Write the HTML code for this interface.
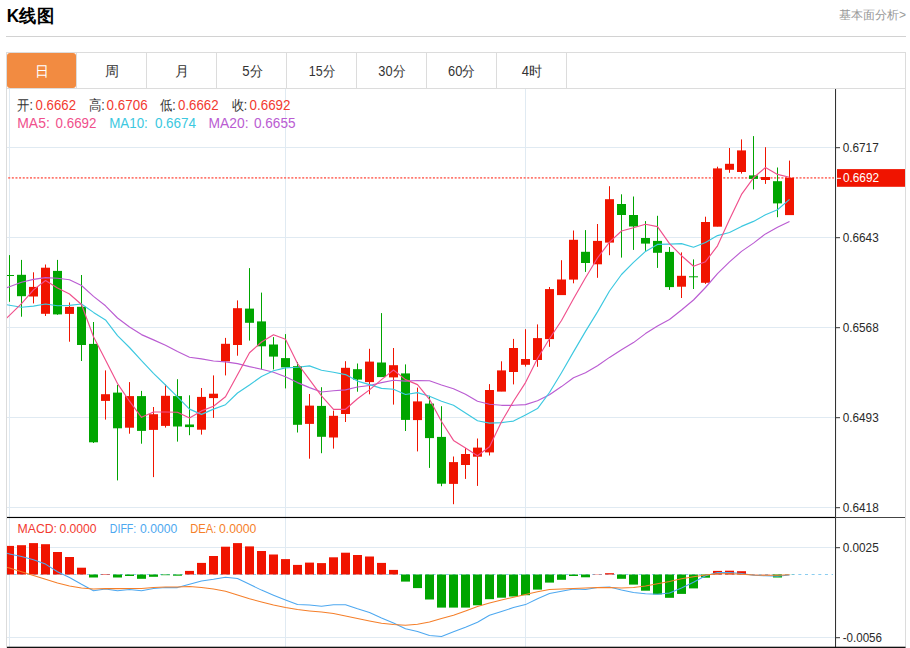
<!DOCTYPE html>
<html lang="zh"><head><meta charset="utf-8"><title>K线图</title>
<style>html,body{margin:0;padding:0;background:#fff;font-family:"Liberation Sans",sans-serif}body{width:910px;height:648px;overflow:hidden}</style></head>
<body>
<svg width="910" height="648" viewBox="0 0 910 648" style="display:block;font-family:'Liberation Sans',sans-serif">
<rect width="910" height="648" fill="#fff"/>
<text x="6.8" y="21.6" font-size="18" font-weight="bold" fill="#000" textLength="47" lengthAdjust="spacingAndGlyphs">K线图</text>
<text x="906" y="18.6" font-size="12" fill="#999" text-anchor="end">基本面分析&gt;</text>
<rect x="6" y="36" width="900" height="1" fill="#d2d2d2"/>
<rect x="6.5" y="52.5" width="899" height="595" fill="none" stroke="#dcdcdc" stroke-width="1"/>
<rect x="7" y="88" width="898" height="1" fill="#dcdcdc"/>
<rect x="7" y="53" width="69" height="35" rx="3" fill="#F28B41"/>
<rect x="76" y="53" width="1" height="35" fill="#dcdcdc"/>
<rect x="146" y="53" width="1" height="35" fill="#dcdcdc"/>
<rect x="216" y="53" width="1" height="35" fill="#dcdcdc"/>
<rect x="286" y="53" width="1" height="35" fill="#dcdcdc"/>
<rect x="356" y="53" width="1" height="35" fill="#dcdcdc"/>
<rect x="426" y="53" width="1" height="35" fill="#dcdcdc"/>
<rect x="496" y="53" width="1" height="35" fill="#dcdcdc"/>
<rect x="566" y="53" width="1" height="35" fill="#dcdcdc"/>
<text x="41.5" y="75.5" font-size="14" fill="#fff" text-anchor="middle">日</text>
<text x="111.5" y="75.5" font-size="14" fill="#333" text-anchor="middle">周</text>
<text x="181.5" y="75.5" font-size="14" fill="#333" text-anchor="middle">月</text>
<text x="242.3" y="75.5" font-size="14" fill="#333" textLength="20.5" lengthAdjust="spacingAndGlyphs">5分</text>
<text x="308.7" y="75.5" font-size="14" fill="#333" textLength="26.4" lengthAdjust="spacingAndGlyphs">15分</text>
<text x="378.3" y="75.5" font-size="14" fill="#333" textLength="27.0" lengthAdjust="spacingAndGlyphs">30分</text>
<text x="448.1" y="75.5" font-size="14" fill="#333" textLength="27.1" lengthAdjust="spacingAndGlyphs">60分</text>
<text x="521.7" y="75.5" font-size="14" fill="#333" textLength="20.4" lengthAdjust="spacingAndGlyphs">4时</text>
<defs><clipPath id="cp"><rect x="7" y="88" width="828" height="560"/></clipPath></defs>
<rect x="7" y="147" width="828" height="1" fill="#E0EAF2"/>
<rect x="7" y="237" width="828" height="1" fill="#E0EAF2"/>
<rect x="7" y="327" width="828" height="1" fill="#E0EAF2"/>
<rect x="7" y="417" width="828" height="1" fill="#E0EAF2"/>
<rect x="7" y="507" width="828" height="1" fill="#E0EAF2"/>
<rect x="7" y="547" width="828" height="1" fill="#E0EAF2"/>
<rect x="7" y="637" width="828" height="1" fill="#E0EAF2"/>
<rect x="9" y="89" width="1" height="558" fill="#E0EAF2"/>
<rect x="285" y="89" width="1" height="558" fill="#E0EAF2"/>
<rect x="525" y="89" width="1" height="558" fill="#E0EAF2"/>
<line x1="8.2" y1="177.9" x2="834" y2="177.9" stroke="#FF7A70" stroke-width="1.9" stroke-dasharray="2,1.63"/>
<g clip-path="url(#cp)">
<rect x="9.0" y="255.1" width="1" height="46.7" fill="#00A500"/>
<rect x="5.0" y="275.0" width="9" height="1.0" fill="#00A500"/>
<rect x="21.0" y="259.9" width="1" height="56.8" fill="#00A500"/>
<rect x="17.0" y="274.8" width="9" height="21.4" fill="#00A500"/>
<rect x="33.0" y="272.3" width="1" height="31.1" fill="#F01400"/>
<rect x="29.0" y="286.9" width="9" height="9.6" fill="#F01400"/>
<rect x="45.0" y="264.5" width="1" height="51.5" fill="#F01400"/>
<rect x="41.0" y="267.7" width="9" height="46.1" fill="#F01400"/>
<rect x="57.0" y="259.9" width="1" height="54.9" fill="#00A500"/>
<rect x="53.0" y="270.9" width="9" height="43.5" fill="#00A500"/>
<rect x="69.0" y="302.5" width="1" height="39.2" fill="#F01400"/>
<rect x="65.0" y="306.9" width="9" height="7.0" fill="#F01400"/>
<rect x="81.0" y="275.0" width="1" height="86.0" fill="#00A500"/>
<rect x="77.0" y="306.8" width="9" height="38.2" fill="#00A500"/>
<rect x="93.0" y="322.0" width="1" height="121.0" fill="#00A500"/>
<rect x="89.0" y="343.9" width="9" height="98.4" fill="#00A500"/>
<rect x="105.0" y="370.4" width="1" height="49.2" fill="#F01400"/>
<rect x="101.0" y="394.2" width="9" height="6.7" fill="#F01400"/>
<rect x="117.0" y="385.0" width="1" height="95.4" fill="#00A500"/>
<rect x="113.0" y="392.6" width="9" height="35.7" fill="#00A500"/>
<rect x="129.0" y="382.1" width="1" height="51.6" fill="#F01400"/>
<rect x="125.0" y="396.1" width="9" height="31.6" fill="#F01400"/>
<rect x="141.0" y="390.9" width="1" height="52.8" fill="#00A500"/>
<rect x="137.0" y="396.1" width="9" height="34.8" fill="#00A500"/>
<rect x="153.0" y="407.0" width="1" height="70.1" fill="#F01400"/>
<rect x="149.0" y="414.2" width="9" height="15.7" fill="#F01400"/>
<rect x="165.0" y="384.5" width="1" height="43.1" fill="#F01400"/>
<rect x="161.0" y="395.8" width="9" height="30.1" fill="#F01400"/>
<rect x="177.0" y="379.2" width="1" height="62.4" fill="#00A500"/>
<rect x="173.0" y="396.1" width="9" height="30.4" fill="#00A500"/>
<rect x="189.0" y="395.3" width="1" height="39.9" fill="#00A500"/>
<rect x="185.0" y="424.5" width="9" height="2.6" fill="#00A500"/>
<rect x="201.0" y="388.0" width="1" height="46.6" fill="#F01400"/>
<rect x="197.0" y="396.9" width="9" height="32.8" fill="#F01400"/>
<rect x="213.0" y="375.4" width="1" height="42.5" fill="#F01400"/>
<rect x="209.0" y="393.7" width="9" height="4.4" fill="#F01400"/>
<rect x="225.0" y="337.9" width="1" height="37.5" fill="#F01400"/>
<rect x="221.0" y="343.8" width="9" height="17.6" fill="#F01400"/>
<rect x="237.0" y="300.4" width="1" height="55.3" fill="#F01400"/>
<rect x="233.0" y="308.2" width="9" height="36.8" fill="#F01400"/>
<rect x="249.0" y="268.1" width="1" height="72.5" fill="#00A500"/>
<rect x="245.0" y="308.6" width="9" height="14.2" fill="#00A500"/>
<rect x="261.0" y="292.6" width="1" height="76.8" fill="#00A500"/>
<rect x="257.0" y="321.4" width="9" height="24.9" fill="#00A500"/>
<rect x="273.0" y="337.1" width="1" height="32.3" fill="#00A500"/>
<rect x="269.0" y="344.5" width="9" height="12.1" fill="#00A500"/>
<rect x="285.0" y="334.1" width="1" height="54.3" fill="#00A500"/>
<rect x="281.0" y="358.1" width="9" height="9.3" fill="#00A500"/>
<rect x="297.0" y="362.0" width="1" height="70.5" fill="#00A500"/>
<rect x="293.0" y="366.2" width="9" height="58.6" fill="#00A500"/>
<rect x="309.0" y="394.0" width="1" height="64.7" fill="#F01400"/>
<rect x="305.0" y="405.6" width="9" height="18.3" fill="#F01400"/>
<rect x="321.0" y="387.2" width="1" height="66.0" fill="#00A500"/>
<rect x="317.0" y="405.9" width="9" height="30.9" fill="#00A500"/>
<rect x="333.0" y="410.6" width="1" height="38.0" fill="#F01400"/>
<rect x="329.0" y="415.8" width="9" height="21.7" fill="#F01400"/>
<rect x="345.0" y="361.2" width="1" height="60.8" fill="#F01400"/>
<rect x="341.0" y="367.8" width="9" height="46.2" fill="#F01400"/>
<rect x="357.0" y="363.5" width="1" height="28.2" fill="#00A500"/>
<rect x="353.0" y="369.2" width="9" height="10.4" fill="#00A500"/>
<rect x="369.0" y="348.8" width="1" height="45.5" fill="#F01400"/>
<rect x="365.0" y="361.6" width="9" height="20.5" fill="#F01400"/>
<rect x="381.0" y="313.1" width="1" height="63.6" fill="#00A500"/>
<rect x="377.0" y="362.5" width="9" height="14.6" fill="#00A500"/>
<rect x="393.0" y="348.0" width="1" height="56.6" fill="#F01400"/>
<rect x="389.0" y="365.2" width="9" height="12.2" fill="#F01400"/>
<rect x="405.0" y="364.4" width="1" height="66.6" fill="#00A500"/>
<rect x="401.0" y="373.4" width="9" height="46.5" fill="#00A500"/>
<rect x="417.0" y="387.6" width="1" height="63.8" fill="#F01400"/>
<rect x="413.0" y="401.4" width="9" height="18.7" fill="#F01400"/>
<rect x="429.0" y="395.8" width="1" height="72.1" fill="#00A500"/>
<rect x="425.0" y="403.6" width="9" height="34.5" fill="#00A500"/>
<rect x="441.0" y="406.2" width="1" height="80.0" fill="#00A500"/>
<rect x="437.0" y="436.9" width="9" height="46.8" fill="#00A500"/>
<rect x="453.0" y="456.5" width="1" height="47.7" fill="#F01400"/>
<rect x="449.0" y="462.1" width="9" height="21.8" fill="#F01400"/>
<rect x="465.0" y="448.1" width="1" height="30.8" fill="#F01400"/>
<rect x="461.0" y="454.0" width="9" height="11.0" fill="#F01400"/>
<rect x="477.0" y="438.5" width="1" height="47.4" fill="#F01400"/>
<rect x="473.0" y="447.6" width="9" height="9.1" fill="#F01400"/>
<rect x="489.0" y="384.1" width="1" height="71.4" fill="#F01400"/>
<rect x="485.0" y="390.0" width="9" height="62.4" fill="#F01400"/>
<rect x="501.0" y="361.3" width="1" height="29.9" fill="#F01400"/>
<rect x="497.0" y="370.4" width="9" height="21.2" fill="#F01400"/>
<rect x="513.0" y="338.9" width="1" height="45.5" fill="#F01400"/>
<rect x="509.0" y="348.0" width="9" height="24.0" fill="#F01400"/>
<rect x="525.0" y="329.2" width="1" height="37.4" fill="#F01400"/>
<rect x="521.0" y="359.0" width="9" height="5.8" fill="#F01400"/>
<rect x="537.0" y="324.4" width="1" height="42.4" fill="#F01400"/>
<rect x="533.0" y="338.1" width="9" height="21.9" fill="#F01400"/>
<rect x="549.0" y="287.0" width="1" height="59.8" fill="#F01400"/>
<rect x="545.0" y="289.1" width="9" height="50.0" fill="#F01400"/>
<rect x="561.0" y="260.2" width="1" height="34.5" fill="#F01400"/>
<rect x="557.0" y="279.5" width="9" height="15.6" fill="#F01400"/>
<rect x="573.0" y="230.5" width="1" height="52.8" fill="#F01400"/>
<rect x="569.0" y="239.8" width="9" height="39.8" fill="#F01400"/>
<rect x="585.0" y="230.1" width="1" height="41.8" fill="#00A500"/>
<rect x="581.0" y="251.8" width="9" height="11.2" fill="#00A500"/>
<rect x="597.0" y="224.0" width="1" height="53.8" fill="#F01400"/>
<rect x="593.0" y="240.9" width="9" height="23.4" fill="#F01400"/>
<rect x="609.0" y="186.2" width="1" height="69.0" fill="#F01400"/>
<rect x="605.0" y="199.2" width="9" height="43.4" fill="#F01400"/>
<rect x="621.0" y="194.3" width="1" height="63.3" fill="#00A500"/>
<rect x="617.0" y="204.0" width="9" height="11.0" fill="#00A500"/>
<rect x="633.0" y="196.5" width="1" height="53.4" fill="#00A500"/>
<rect x="629.0" y="215.0" width="9" height="11.5" fill="#00A500"/>
<rect x="645.0" y="221.1" width="1" height="29.7" fill="#00A500"/>
<rect x="641.0" y="238.0" width="9" height="5.6" fill="#00A500"/>
<rect x="657.0" y="215.8" width="1" height="52.1" fill="#00A500"/>
<rect x="653.0" y="240.9" width="9" height="11.9" fill="#00A500"/>
<rect x="669.0" y="247.0" width="1" height="42.9" fill="#00A500"/>
<rect x="665.0" y="251.9" width="9" height="35.2" fill="#00A500"/>
<rect x="681.0" y="252.4" width="1" height="45.6" fill="#F01400"/>
<rect x="677.0" y="275.8" width="9" height="10.9" fill="#F01400"/>
<rect x="693.0" y="259.4" width="1" height="29.6" fill="#00A500"/>
<rect x="689.0" y="276.3" width="9" height="1.0" fill="#00A500"/>
<rect x="705.0" y="216.7" width="1" height="67.2" fill="#F01400"/>
<rect x="701.0" y="222.0" width="9" height="60.8" fill="#F01400"/>
<rect x="717.0" y="166.7" width="1" height="59.7" fill="#F01400"/>
<rect x="713.0" y="168.4" width="9" height="58.3" fill="#F01400"/>
<rect x="729.0" y="148.0" width="1" height="24.8" fill="#F01400"/>
<rect x="725.0" y="163.8" width="9" height="6.0" fill="#F01400"/>
<rect x="741.0" y="139.4" width="1" height="34.2" fill="#F01400"/>
<rect x="737.0" y="150.4" width="9" height="21.6" fill="#F01400"/>
<rect x="753.0" y="136.1" width="1" height="53.3" fill="#00A500"/>
<rect x="749.0" y="175.4" width="9" height="3.5" fill="#00A500"/>
<rect x="765.0" y="147.2" width="1" height="36.7" fill="#F01400"/>
<rect x="761.0" y="177.0" width="9" height="3.0" fill="#F01400"/>
<rect x="777.0" y="167.5" width="1" height="49.7" fill="#00A500"/>
<rect x="773.0" y="181.2" width="9" height="22.2" fill="#00A500"/>
<rect x="789.0" y="160.6" width="1" height="54.1" fill="#F01400"/>
<rect x="785.0" y="177.7" width="9" height="37.4" fill="#F01400"/>
<polyline points="6.5,287.8 9.5,286.8 21.5,282.2 33.5,279.4 45.5,277.6 57.5,278.3 69.5,279.7 81.5,285.5 93.5,296.4 105.5,305.8 117.5,318.0 129.5,327.0 141.5,334.6 153.5,339.9 165.5,345.2 177.5,351.6 189.5,357.2 201.5,358.9 213.5,361.0 225.5,361.9 237.5,363.6 249.5,366.6 261.5,369.2 273.5,372.3 285.5,376.7 297.5,382.6 309.5,387.6 321.5,392.0 333.5,390.8 345.5,389.9 357.5,387.0 369.5,385.5 381.5,382.6 393.5,380.2 405.5,381.1 417.5,380.5 429.5,380.8 441.5,385.0 453.5,388.8 465.5,394.3 477.5,401.3 489.5,404.3 501.5,405.3 513.5,405.3 525.5,404.6 537.5,400.7 549.5,394.7 561.5,386.6 573.5,377.8 585.5,372.7 597.5,365.7 609.5,357.4 621.5,349.7 633.5,342.6 645.5,333.6 657.5,325.9 669.5,319.5 681.5,310.0 693.5,300.0 705.5,287.5 717.5,273.6 729.5,261.9 741.5,251.4 753.5,243.1 765.5,233.9 777.5,227.2 789.5,221.4" fill="none" stroke="#BA5CD2" stroke-width="1.15" stroke-linejoin="round"/>
<polyline points="6.5,304.7 9.5,305.2 21.5,307.3 33.5,306.1 45.5,304.0 57.5,305.8 69.5,305.4 81.5,304.0 93.5,312.4 105.5,319.9 117.5,335.7 129.5,347.5 141.5,360.7 153.5,373.3 165.5,385.0 177.5,396.8 189.5,409.1 201.5,414.4 213.5,409.1 225.5,404.7 237.5,393.0 249.5,385.0 261.5,376.5 273.5,370.8 285.5,367.9 297.5,367.3 309.5,365.9 321.5,370.2 333.5,372.3 345.5,374.6 357.5,381.1 369.5,384.6 381.5,388.4 393.5,389.3 405.5,394.5 417.5,392.6 429.5,396.3 441.5,401.2 453.5,405.3 465.5,413.0 477.5,420.7 489.5,423.1 501.5,422.6 513.5,421.1 525.5,414.9 537.5,408.6 549.5,392.5 561.5,372.7 573.5,351.9 585.5,331.4 597.5,311.9 609.5,291.0 621.5,274.5 633.5,262.4 645.5,251.4 657.5,244.4 669.5,244.1 681.5,243.6 693.5,247.2 705.5,242.5 717.5,235.6 729.5,232.5 741.5,226.4 753.5,221.4 765.5,214.7 777.5,209.7 789.5,199.4" fill="none" stroke="#3CC8E0" stroke-width="1.15" stroke-linejoin="round"/>
<polyline points="6.5,318.2 9.5,315.4 21.5,303.7 33.5,289.9 45.5,280.5 57.5,288.0 69.5,294.0 81.5,304.5 93.5,336.7 105.5,360.1 117.5,383.6 129.5,401.2 141.5,417.3 153.5,412.0 165.5,412.0 177.5,412.3 189.5,417.9 201.5,410.9 213.5,406.2 225.5,396.8 237.5,374.8 249.5,352.8 261.5,342.0 273.5,334.8 285.5,339.2 297.5,363.5 309.5,379.6 321.5,395.8 333.5,409.3 345.5,409.3 357.5,398.7 369.5,389.9 381.5,379.6 393.5,370.0 405.5,379.6 417.5,384.6 429.5,399.3 441.5,421.5 453.5,440.4 465.5,448.1 477.5,455.8 489.5,446.7 501.5,421.8 513.5,401.3 525.5,382.6 537.5,358.5 549.5,338.7 561.5,320.5 573.5,298.7 585.5,277.8 597.5,258.0 609.5,242.2 621.5,231.0 633.5,227.7 645.5,224.2 657.5,226.6 669.5,243.7 681.5,255.7 693.5,266.2 705.5,261.7 717.5,245.8 729.5,219.4 741.5,194.4 753.5,177.8 765.5,167.5 777.5,174.4 789.5,177.2" fill="none" stroke="#F0508C" stroke-width="1.15" stroke-linejoin="round"/>
<line x1="7" y1="574.5" x2="833" y2="574.5" stroke="#8ACDF0" stroke-width="1" stroke-dasharray="3,3.65"/>
<rect x="5.0" y="545.9" width="9" height="28.6" fill="#F01400"/>
<rect x="17.0" y="545.2" width="9" height="29.3" fill="#F01400"/>
<rect x="29.0" y="543.1" width="9" height="31.4" fill="#F01400"/>
<rect x="41.0" y="544.2" width="9" height="30.3" fill="#F01400"/>
<rect x="53.0" y="552.0" width="9" height="22.5" fill="#F01400"/>
<rect x="65.0" y="557.0" width="9" height="17.5" fill="#F01400"/>
<rect x="77.0" y="567.7" width="9" height="6.8" fill="#F01400"/>
<rect x="89.0" y="574.5" width="9" height="3.0" fill="#00A500"/>
<rect x="101.0" y="574.0" width="9" height="0.5" fill="#F01400"/>
<rect x="113.0" y="574.5" width="9" height="3.0" fill="#00A500"/>
<rect x="125.0" y="574.5" width="9" height="1.5" fill="#00A500"/>
<rect x="137.0" y="574.5" width="9" height="4.3" fill="#00A500"/>
<rect x="149.0" y="574.5" width="9" height="2.3" fill="#00A500"/>
<rect x="161.0" y="574.5" width="9" height="0.7" fill="#00A500"/>
<rect x="173.0" y="574.5" width="9" height="1.2" fill="#00A500"/>
<rect x="185.0" y="570.9" width="9" height="3.6" fill="#F01400"/>
<rect x="197.0" y="562.9" width="9" height="11.6" fill="#F01400"/>
<rect x="209.0" y="556.0" width="9" height="18.5" fill="#F01400"/>
<rect x="221.0" y="546.7" width="9" height="27.8" fill="#F01400"/>
<rect x="233.0" y="543.1" width="9" height="31.4" fill="#F01400"/>
<rect x="245.0" y="546.4" width="9" height="28.1" fill="#F01400"/>
<rect x="257.0" y="551.0" width="9" height="23.5" fill="#F01400"/>
<rect x="269.0" y="554.5" width="9" height="20.0" fill="#F01400"/>
<rect x="281.0" y="559.1" width="9" height="15.4" fill="#F01400"/>
<rect x="293.0" y="564.9" width="9" height="9.6" fill="#F01400"/>
<rect x="305.0" y="562.6" width="9" height="11.9" fill="#F01400"/>
<rect x="317.0" y="563.1" width="9" height="11.4" fill="#F01400"/>
<rect x="329.0" y="557.3" width="9" height="17.2" fill="#F01400"/>
<rect x="341.0" y="552.7" width="9" height="21.8" fill="#F01400"/>
<rect x="353.0" y="555.0" width="9" height="19.5" fill="#F01400"/>
<rect x="365.0" y="556.5" width="9" height="18.0" fill="#F01400"/>
<rect x="377.0" y="562.9" width="9" height="11.6" fill="#F01400"/>
<rect x="389.0" y="569.9" width="9" height="4.6" fill="#F01400"/>
<rect x="401.0" y="574.5" width="9" height="7.1" fill="#00A500"/>
<rect x="413.0" y="574.5" width="9" height="13.6" fill="#00A500"/>
<rect x="425.0" y="574.5" width="9" height="25.0" fill="#00A500"/>
<rect x="437.0" y="574.5" width="9" height="33.1" fill="#00A500"/>
<rect x="449.0" y="574.5" width="9" height="33.1" fill="#00A500"/>
<rect x="461.0" y="574.5" width="9" height="33.1" fill="#00A500"/>
<rect x="473.0" y="574.5" width="9" height="30.8" fill="#00A500"/>
<rect x="485.0" y="574.5" width="9" height="24.7" fill="#00A500"/>
<rect x="497.0" y="574.5" width="9" height="23.2" fill="#00A500"/>
<rect x="509.0" y="574.5" width="9" height="22.0" fill="#00A500"/>
<rect x="521.0" y="574.5" width="9" height="20.7" fill="#00A500"/>
<rect x="533.0" y="574.5" width="9" height="15.1" fill="#00A500"/>
<rect x="545.0" y="574.5" width="9" height="8.1" fill="#00A500"/>
<rect x="557.0" y="574.5" width="9" height="5.3" fill="#00A500"/>
<rect x="569.0" y="574.5" width="9" height="1.5" fill="#00A500"/>
<rect x="581.0" y="574.5" width="9" height="2.8" fill="#00A500"/>
<rect x="593.0" y="574.2" width="9" height="0.3" fill="#F01400"/>
<rect x="605.0" y="573.2" width="9" height="1.3" fill="#F01400"/>
<rect x="617.0" y="574.5" width="9" height="4.3" fill="#00A500"/>
<rect x="629.0" y="574.5" width="9" height="10.1" fill="#00A500"/>
<rect x="641.0" y="574.5" width="9" height="16.2" fill="#00A500"/>
<rect x="653.0" y="574.5" width="9" height="19.9" fill="#00A500"/>
<rect x="665.0" y="574.5" width="9" height="23.3" fill="#00A500"/>
<rect x="677.0" y="574.5" width="9" height="19.4" fill="#00A500"/>
<rect x="689.0" y="574.5" width="9" height="13.9" fill="#00A500"/>
<rect x="701.0" y="574.5" width="9" height="3.2" fill="#00A500"/>
<rect x="713.0" y="570.9" width="9" height="3.6" fill="#F01400"/>
<rect x="725.0" y="570.7" width="9" height="3.8" fill="#F01400"/>
<rect x="737.0" y="571.2" width="9" height="3.3" fill="#F01400"/>
<rect x="749.0" y="574.3" width="9" height="0.2" fill="#F01400"/>
<rect x="761.0" y="574.3" width="9" height="0.2" fill="#F01400"/>
<rect x="773.0" y="574.5" width="9" height="3.0" fill="#00A500"/>
<rect x="785.0" y="574.5" width="9" height="0.1" fill="#00A500"/>
<polyline points="6.5,553.2 9.5,553.9 21.5,556.5 33.5,559.8 45.5,564.1 57.5,571.7 69.5,577.5 81.5,584.3 93.5,590.7 105.5,588.9 117.5,590.7 129.5,589.4 141.5,590.7 153.5,588.6 165.5,587.6 177.5,587.6 189.5,584.3 201.5,581.0 213.5,579.3 225.5,577.2 237.5,578.5 249.5,584.3 261.5,590.1 273.5,595.2 285.5,600.0 297.5,604.6 309.5,605.1 321.5,606.3 333.5,604.8 345.5,604.8 357.5,608.8 369.5,612.4 381.5,617.9 393.5,623.0 405.5,628.8 417.5,631.6 429.5,635.4 441.5,636.4 453.5,631.8 465.5,627.3 477.5,622.2 489.5,615.2 501.5,611.4 513.5,607.6 525.5,604.6 537.5,598.7 549.5,593.4 561.5,591.2 573.5,589.1 585.5,589.4 597.5,587.6 609.5,586.9 621.5,590.1 633.5,592.4 645.5,593.8 657.5,594.2 669.5,593.0 681.5,587.9 693.5,582.3 705.5,575.8 717.5,572.6 729.5,572.6 741.5,573.4 753.5,575.3 765.5,575.8 777.5,576.3 789.5,575.1" fill="none" stroke="#4DA8F0" stroke-width="1.05" stroke-linejoin="round"/>
<polyline points="6.5,567.4 9.5,568.1 21.5,571.7 33.5,575.5 45.5,579.3 57.5,583.1 69.5,586.1 81.5,588.1 93.5,589.1 105.5,588.6 117.5,588.6 129.5,588.4 141.5,588.6 153.5,587.6 165.5,587.1 177.5,586.9 189.5,586.6 201.5,587.4 213.5,588.9 225.5,591.3 237.5,594.9 249.5,598.7 261.5,602.0 273.5,605.1 285.5,607.6 297.5,609.6 309.5,610.9 321.5,612.1 333.5,613.6 345.5,615.9 357.5,618.5 369.5,621.0 381.5,623.3 393.5,624.5 405.5,625.3 417.5,624.3 429.5,622.0 441.5,618.5 453.5,615.2 465.5,610.9 477.5,606.6 489.5,603.0 501.5,600.0 513.5,597.2 525.5,594.4 537.5,591.7 549.5,589.6 561.5,588.9 573.5,588.4 585.5,587.9 597.5,587.6 609.5,587.6 621.5,587.9 633.5,587.4 645.5,586.0 657.5,583.7 669.5,581.4 681.5,578.7 693.5,576.8 705.5,575.1 717.5,573.8 729.5,573.8 741.5,574.3 753.5,575.1 765.5,575.3 777.5,575.3 789.5,574.8" fill="none" stroke="#F57F2A" stroke-width="1.05" stroke-linejoin="round"/>
</g>
<rect x="835" y="89" width="1.05" height="559" fill="#333"/>
<rect x="7" y="516.9" width="828" height="1.15" fill="#000"/>
<rect x="835" y="517" width="70" height="1" fill="#444"/>
<rect x="7" y="646.7" width="898.5" height="1.4" fill="#111"/>
<rect x="836" y="147.2" width="4" height="1" fill="#333"/>
<text x="842.7" y="151.7" font-size="12.5" fill="#2a2a2a" textLength="36" lengthAdjust="spacingAndGlyphs">0.6717</text>
<rect x="836" y="237.2" width="4" height="1" fill="#333"/>
<text x="842.7" y="241.7" font-size="12.5" fill="#2a2a2a" textLength="36" lengthAdjust="spacingAndGlyphs">0.6643</text>
<rect x="836" y="327.2" width="4" height="1" fill="#333"/>
<text x="842.7" y="331.7" font-size="12.5" fill="#2a2a2a" textLength="36" lengthAdjust="spacingAndGlyphs">0.6568</text>
<rect x="836" y="417.2" width="4" height="1" fill="#333"/>
<text x="842.7" y="421.7" font-size="12.5" fill="#2a2a2a" textLength="36" lengthAdjust="spacingAndGlyphs">0.6493</text>
<rect x="836" y="507.2" width="4" height="1" fill="#333"/>
<text x="842.7" y="511.7" font-size="12.5" fill="#2a2a2a" textLength="36" lengthAdjust="spacingAndGlyphs">0.6418</text>
<rect x="836" y="547.2" width="4" height="1" fill="#333"/>
<text x="842.7" y="551.7" font-size="12.5" fill="#2a2a2a" textLength="36" lengthAdjust="spacingAndGlyphs">0.0025</text>
<rect x="836" y="637.2" width="4" height="1" fill="#333"/>
<text x="842.7" y="641.7" font-size="12.5" fill="#2a2a2a" textLength="39.3" lengthAdjust="spacingAndGlyphs">-0.0056</text>
<rect x="837" y="169.1" width="68" height="17.7" fill="#F01400"/>
<rect x="837" y="177.8" width="4" height="1" fill="#fff"/>
<text x="842.9" y="182.1" font-size="12.5" fill="#fff" textLength="36.2" lengthAdjust="spacingAndGlyphs">0.6692</text>
<text x="17.2" y="109.8" font-size="14" fill="#333" textLength="15.8" lengthAdjust="spacingAndGlyphs">开:</text>
<text x="35.6" y="109.8" font-size="14" fill="#F23A30" textLength="40.4" lengthAdjust="spacingAndGlyphs">0.6662</text>
<text x="88.7" y="109.8" font-size="14" fill="#333" textLength="15.9" lengthAdjust="spacingAndGlyphs">高:</text>
<text x="106.6" y="109.8" font-size="14" fill="#F23A30" textLength="41.0" lengthAdjust="spacingAndGlyphs">0.6706</text>
<text x="160" y="109.8" font-size="14" fill="#333" textLength="15.6" lengthAdjust="spacingAndGlyphs">低:</text>
<text x="178" y="109.8" font-size="14" fill="#F23A30" textLength="40.6" lengthAdjust="spacingAndGlyphs">0.6662</text>
<text x="231.5" y="109.8" font-size="14" fill="#333" textLength="15.5" lengthAdjust="spacingAndGlyphs">收:</text>
<text x="249.5" y="109.8" font-size="14" fill="#F23A30" textLength="41.0" lengthAdjust="spacingAndGlyphs">0.6692</text>
<text x="17.2" y="128" font-size="14" fill="#F0508C" textLength="32.6" lengthAdjust="spacingAndGlyphs">MA5:</text>
<text x="55.6" y="128" font-size="14" fill="#F0508C" textLength="40.9" lengthAdjust="spacingAndGlyphs">0.6692</text>
<text x="109.2" y="128" font-size="14" fill="#3CC8E0" textLength="38.6" lengthAdjust="spacingAndGlyphs">MA10:</text>
<text x="154.9" y="128" font-size="14" fill="#3CC8E0" textLength="41.2" lengthAdjust="spacingAndGlyphs">0.6674</text>
<text x="208.5" y="128" font-size="14" fill="#BA5CD2" textLength="40.0" lengthAdjust="spacingAndGlyphs">MA20:</text>
<text x="254" y="128" font-size="14" fill="#BA5CD2" textLength="41.5" lengthAdjust="spacingAndGlyphs">0.6655</text>
<text x="17.5" y="533.4" font-size="13" fill="#F23A30" textLength="39.5" lengthAdjust="spacingAndGlyphs">MACD:</text>
<text x="59.4" y="533.4" font-size="13" fill="#F23A30" textLength="37.2" lengthAdjust="spacingAndGlyphs">0.0000</text>
<text x="109.8" y="533.4" font-size="13" fill="#4DA8F0" textLength="26.5" lengthAdjust="spacingAndGlyphs">DIFF:</text>
<text x="140" y="533.4" font-size="13" fill="#4DA8F0" textLength="37.2" lengthAdjust="spacingAndGlyphs">0.0000</text>
<text x="190.2" y="533.4" font-size="13" fill="#F57F2A" textLength="26.1" lengthAdjust="spacingAndGlyphs">DEA:</text>
<text x="219" y="533.4" font-size="13" fill="#F57F2A" textLength="37.3" lengthAdjust="spacingAndGlyphs">0.0000</text>
</svg>
</body></html>
